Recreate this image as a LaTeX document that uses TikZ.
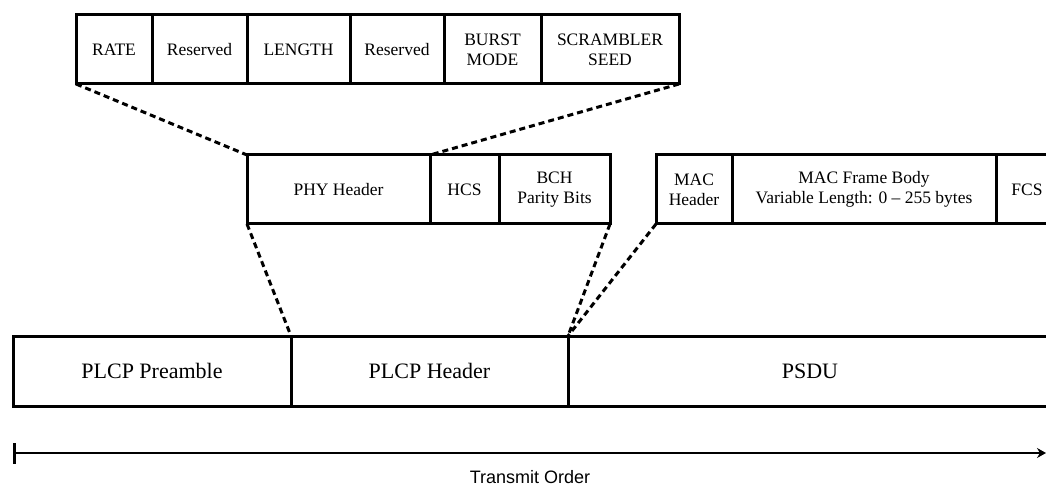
\documentclass[tikz,border=0pt]{standalone}
\usepackage{fontspec}
\setmainfont{Liberation Serif}
\setsansfont{Liberation Sans}
\usetikzlibrary{positioning,arrows.meta}

\newcommand{\fieldfont}{\fontsize{17.5}{20}\selectfont}
\newcommand{\framefont}{\fontsize{22}{25}\selectfont}

\begin{document}
\begin{tikzpicture}[x=1pt, y=-1pt,
  field/.style={draw, line width=3pt, inner sep=0pt, outer sep=0pt, minimum height=69pt, align=center, font=\fieldfont},
  frame/.style={field, minimum height=70pt, font=\framefont},
  zoomline/.style={line width=3pt, dash pattern=on 6pt off 4pt}]
\clip (0,0) rectangle (1046,486);

% PHY header fields
\node[field, minimum width=76pt, anchor=north west] (rate) at (76,15) {RATE};
\node[field, minimum width=95pt, right=0pt of rate] (resa) {Reserved};
\node[field, minimum width=103pt, right=0pt of resa] (length) {LENGTH};
\node[field, minimum width=94pt, right=0pt of length] (resb) {Reserved};
\node[field, minimum width=97pt, right=0pt of resb] (burst) {BURST\\MODE};
\node[field, minimum width=138pt, right=0pt of burst] (seed) {SCRAMBLER\\SEED};

% PLCP header
\node[field, minimum width=183pt, anchor=north west] (phy) at (247,155) {PHY Header};
\node[field, minimum width=69pt, right=0pt of phy] (hcs) {HCS};
\node[field, minimum width=111pt, right=0pt of hcs] (bch) {BCH\\Parity Bits};

% PSDU
\node[field, minimum width=76pt, anchor=north west] (machdr) at (656,155) {MAC\\Header};
\node[field, minimum width=264pt, right=0pt of machdr] (body) {MAC Frame Body\\Variable Length: 0 -- 255 bytes};
\node[field, minimum width=62pt, right=0pt of body] (fcs) {FCS};

% PPDU
\node[frame, minimum width=278pt, anchor=north west] (pre) at (13,336) {PLCP Preamble};
\node[frame, minimum width=277pt, right=0pt of pre] (hdr) {PLCP Header};
\node[frame, minimum width=484pt, right=0pt of hdr] (psdu) {PSDU};

\draw[zoomline] (rate.south west) -- (phy.north west);
\draw[zoomline] (seed.south east) -- (hcs.north west);
\draw[zoomline] (phy.south west) -- (hdr.north west);
\draw[zoomline] (bch.south east) -- (hdr.north east);
\draw[zoomline] (machdr.south west) -- (hdr.north east);

\coordinate (tstart) at (13,453);
\coordinate (tend) at (1046,453);
\draw[line width=2.5pt, {Bar[width=21pt,line width=2.5pt]}-{Stealth[length=9pt,width=10pt]}] (tstart) -- (tend);
\node[font=\sffamily\fontsize{18}{20}\selectfont] (order) at (530,477) {Transmit Order};

\end{tikzpicture}
\end{document}
